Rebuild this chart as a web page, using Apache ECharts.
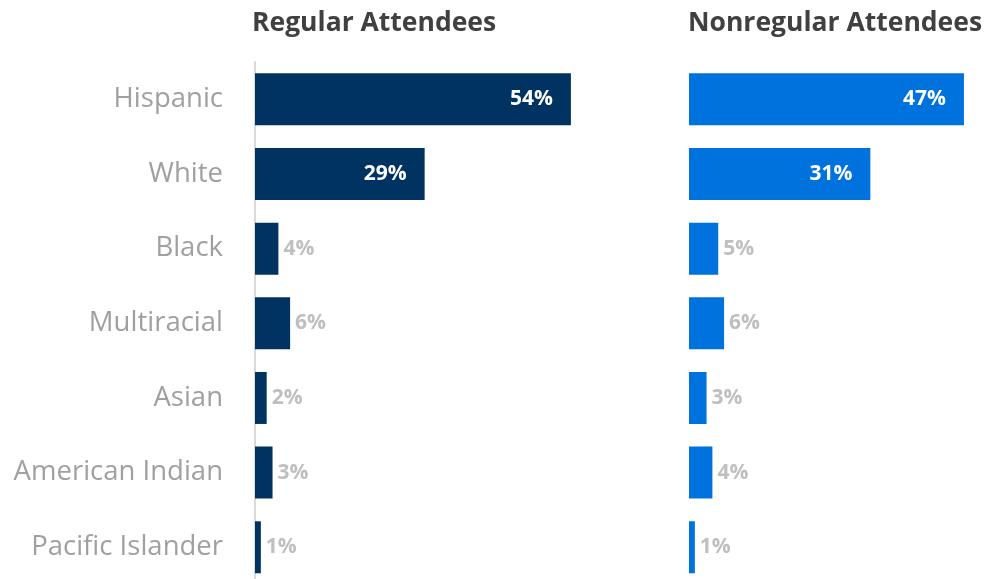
<!DOCTYPE html>
<html>
<head>
<meta charset="utf-8">
<script src="https://cdn.jsdelivr.net/npm/echarts@6/dist/echarts.min.js"></script>
<style>
  html, body { margin: 0; padding: 0; background: #ffffff; overflow: hidden; }
  #chart { width: 985px; height: 600px; }
</style>
</head>
<body>
<div id="chart"></div>
<script>
// Race/ethnicity groups, top to bottom
const categories = ['Hispanic', 'White', 'Black', 'Multiracial', 'Asian', 'American Indian', 'Pacific Islander'];
// Share of each group (%)
const regularValues = [54, 29, 4, 6, 2, 3, 1];
const nonregularValues = [47, 31, 5, 6, 3, 4, 1];
const panelTitles = ['Regular Attendees', 'Nonregular Attendees'];

const FONT = '"Open Sans", "Noto Sans", sans-serif';

function barData(values) {
  return values.map(v => {
    const inside = v >= 20;
    return {
      value: v,
      label: inside
        ? { position: 'insideRight', distance: 18, color: '#ffffff' }
        : { position: 'right', distance: 5, color: '#bfbfbf' }
    };
  });
}

const chart = echarts.init(document.getElementById('chart'), null, { renderer: 'canvas' });

const commonLabel = {
  show: true,
  formatter: p => p.value + '%',
  fontFamily: FONT,
  fontWeight: 'bold',
  fontSize: 21
};

const titleStyle = { fontFamily: FONT, fontWeight: 'bold', fontSize: 26.5, color: '#404040' };

// Both panels share the same scale: 5.85 px per percentage point
chart.setOption({
  backgroundColor: '#ffffff',
  animation: false,
  title: [
    { text: panelTitles[0], left: 247, top: 5, textStyle: titleStyle },
    { text: panelTitles[1], left: 683, top: 5, textStyle: titleStyle }
  ],
  grid: [
    { left: 255, top: 62, width: 351, height: 522.6 },
    { left: 689, top: 62, width: 292.5, height: 522.6 }
  ],
  xAxis: [
    { gridIndex: 0, type: 'value', min: 0, max: 60, show: false },
    { gridIndex: 1, type: 'value', min: 0, max: 50, show: false }
  ],
  yAxis: [
    {
      gridIndex: 0, type: 'category', data: categories, inverse: true,
      axisLine: { show: true, lineStyle: { color: '#d9d9d9', width: 2 } },
      axisTick: { show: false },
      axisLabel: { margin: 32, fontFamily: FONT, fontSize: 27.5, color: '#a0a0a0' }
    },
    {
      gridIndex: 1, type: 'category', data: categories, inverse: true,
      axisLine: { show: false }, axisTick: { show: false }, axisLabel: { show: false }
    }
  ],
  series: [
    {
      type: 'bar', xAxisIndex: 0, yAxisIndex: 0, barWidth: 52,
      itemStyle: { color: '#003361' },
      label: commonLabel,
      data: barData(regularValues)
    },
    {
      type: 'bar', xAxisIndex: 1, yAxisIndex: 1, barWidth: 52,
      itemStyle: { color: '#0072de' },
      label: commonLabel,
      data: barData(nonregularValues)
    }
  ]
});
</script>
</body>
</html>
